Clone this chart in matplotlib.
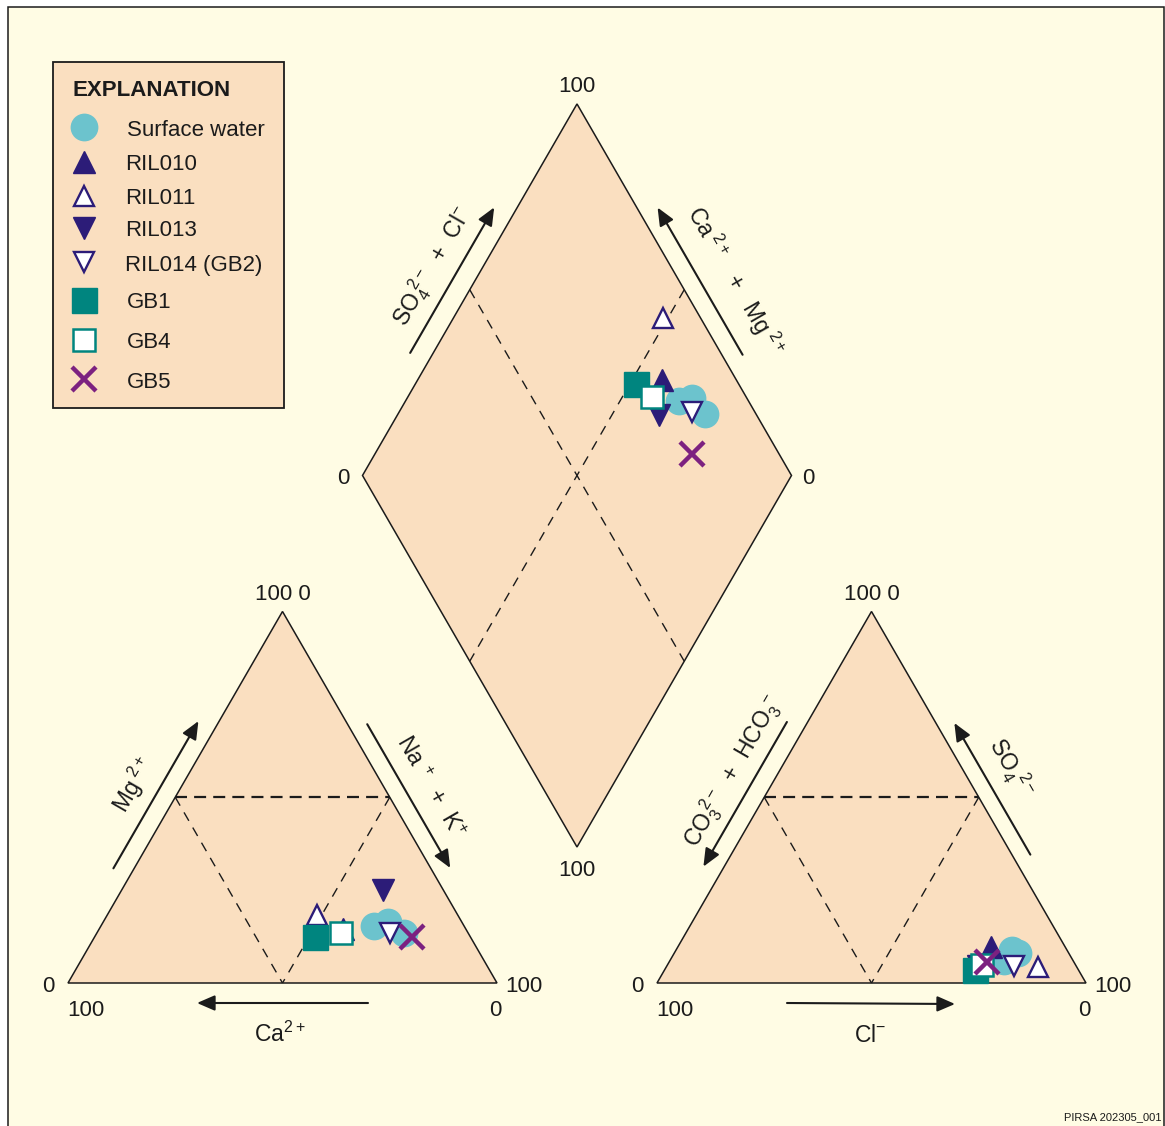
import numpy as np
import matplotlib
matplotlib.use("Agg")
import matplotlib.pyplot as plt
from matplotlib.patches import Polygon, Rectangle

plt.rcParams['font.family'] = ['Liberation Sans', 'DejaVu Sans']
plt.rcParams['mathtext.fontset'] = 'custom'
plt.rcParams['mathtext.rm'] = 'Liberation Sans'
plt.rcParams['mathtext.it'] = 'Liberation Sans:italic'
plt.rcParams['mathtext.bf'] = 'Liberation Sans:bold'
plt.rcParams['mathtext.default'] = 'regular'

# ---------------------------------------------------------------------------
# Sample groups (legend order) and their major-ion compositions (% meq/L)
# ---------------------------------------------------------------------------
groups = ['Surface water', 'RIL010', 'RIL011', 'RIL013', 'RIL014 (GB2)',
          'GB1', 'GB4', 'GB5']

# group index of each analysed sample
sample_group = [0, 0, 0, 1, 2, 3, 4, 5, 6, 7]

# cations
ca_pct = [21.0, 17.2, 14.9, 28.6, 32.9, 14.1, 18.2, 36.2, 29.5, 13.7]
mg_pct = [15.3, 16.4, 13.5, 14.5, 18.3, 25.0, 13.5, 12.4, 13.5, 12.4]
nak_pct = [63.7, 66.4, 71.6, 56.9, 48.8, 60.9, 68.3, 51.4, 57.0, 73.9]

# anions
hco3_pct = [16.2, 12.7, 11.8, 17.4, 8.9, 22.9, 14.5, 24.1, 21.9, 20.3]
so4_pct = [5.8, 9.0, 8.0, 9.7, 4.4, 4.6, 4.6, 3.5, 4.8, 5.7]
cl_pct = [78.0, 78.3, 80.2, 72.9, 86.7, 72.5, 80.9, 72.4, 73.3, 74.0]

# ---------------------------------------------------------------------------
# Layout of the Piper diagram (figure pixel space)
# ---------------------------------------------------------------------------
W, H = 1165, 1126
SIDE = 429.0
HT = SIDE * np.sqrt(3) / 2

cat_bl = np.array([68.0, 983.0])
cat_br = cat_bl + [SIDE, 0]
cat_top = cat_bl + [SIDE / 2, -HT]

an_bl = np.array([657.0, 983.0])
an_br = an_bl + [SIDE, 0]
an_top = an_bl + [SIDE / 2, -HT]

d_bottom = np.array([577.0, 847.0])
d_left = d_bottom + [-SIDE / 2, -HT]
d_right = d_bottom + [SIDE / 2, -HT]
d_top = d_bottom + [0, -2 * HT]

BG = '#FFFCE4'
FILL = '#FADFC0'
INK = '#1b1b1b'
NAVY = '#2C1C78'
TEAL = '#00857F'
CYAN = '#6CC3CD'
PURPLE = '#7C2180'

styles = [
    dict(marker='o', ms=20, mfc=CYAN, mec=CYAN, mew=0),
    dict(marker='^', ms=15.5, mfc=NAVY, mec=NAVY, mew=1.0),
    dict(marker='^', ms=14.5, mfc='white', mec=NAVY, mew=1.7),
    dict(marker='v', ms=15.5, mfc=NAVY, mec=NAVY, mew=1.0),
    dict(marker='v', ms=14.5, mfc='white', mec=NAVY, mew=1.7),
    dict(marker='s', ms=18, mfc=TEAL, mec=TEAL, mew=1.0),
    dict(marker='s', ms=16.5, mfc='white', mec=TEAL, mew=1.8),
    dict(marker='x', ms=17.5, mfc=PURPLE, mec=PURPLE, mew=3.2),
]


def ternary(a, b, c, p_a, p_b, p_c):
    a, b, c = (np.asarray(v, float) for v in (a, b, c))
    s = a + b + c
    return (np.outer(a / s, p_a) + np.outer(b / s, p_b) + np.outer(c / s, p_c))


def diamond(cat_sum, an_sum):
    """cat_sum = Ca+Mg (%), an_sum = SO4+Cl (%)"""
    cm = np.asarray(cat_sum, float)[:, None] / 100.0
    sc = np.asarray(an_sum, float)[:, None] / 100.0
    return d_bottom + sc * (d_right - d_bottom) + cm * (d_left - d_bottom)


fig = plt.figure(figsize=(W / 100, H / 100), dpi=100)
ax = fig.add_axes([0, 0, 1, 1])
ax.set_xlim(0, W)
ax.set_ylim(H, 0)
ax.axis('off')

# panel frame
ax.add_patch(Rectangle((8, 7), W - 9, H + 20, facecolor=BG, edgecolor=INK,
                       lw=1.1, zorder=0))

# diagram outlines
for poly in ([cat_bl, cat_top, cat_br], [an_bl, an_top, an_br],
             [d_left, d_top, d_right, d_bottom]):
    ax.add_patch(Polygon(poly, closed=True, facecolor=FILL, edgecolor=INK,
                         lw=1.1, zorder=1))

# internal dashed guides
def dline(p, q, lw, dash):
    ax.plot([p[0], q[0]], [p[1], q[1]], color=INK, lw=lw,
            ls=(0, dash), zorder=2)

for bl, top, br in ((cat_bl, cat_top, cat_br), (an_bl, an_top, an_br)):
    ml = (bl + top) / 2
    mr = (br + top) / 2
    mb = (bl + br) / 2
    dline(ml, mr, 1.6, (5.4, 3.2))
    dline(ml, mb, 1.0, (7.0, 5.6))
    dline(mr, mb, 1.0, (7.0, 5.6))

dline((d_left + d_top) / 2, (d_right + d_bottom) / 2, 1.0, (7.0, 5.6))
dline((d_right + d_top) / 2, (d_left + d_bottom) / 2, 1.0, (7.0, 5.6))

# ---------------------------------------------------------------------------
# Data points
# ---------------------------------------------------------------------------
cat_xy = ternary(ca_pct, mg_pct, nak_pct, cat_bl, cat_top, cat_br)
an_xy = ternary(hco3_pct, so4_pct, cl_pct, an_bl, an_top, an_br)
cat_tot = np.array(ca_pct) + np.array(mg_pct) + np.array(nak_pct)
an_tot = np.array(hco3_pct) + np.array(so4_pct) + np.array(cl_pct)
camg = 100 * (np.array(ca_pct) + np.array(mg_pct)) / cat_tot
so4cl = 100 * (np.array(so4_pct) + np.array(cl_pct)) / an_tot
dia_xy = diamond(camg, so4cl)

for g, st in enumerate(styles):
    idx = [i for i, sg in enumerate(sample_group) if sg == g]
    for pts in (cat_xy, an_xy, dia_xy):
        ax.plot(pts[idx, 0], pts[idx, 1], ls='none', zorder=5 + g, **st)

# ---------------------------------------------------------------------------
# Axis arrows and labels
# ---------------------------------------------------------------------------
DY = 3  # optical centring of upright labels


def label(x, y, s, size=16, **kw):
    ax.text(x, y + DY, s, ha=kw.pop('ha', 'center'), va='center',
            fontsize=size, color=INK, **kw)


def side_frame(p0, p1, outward):
    d = (p1 - p0) / np.linalg.norm(p1 - p0)
    n = np.array(outward, float)
    n = n / np.linalg.norm(n)
    return d, n


ARROW = dict(arrowstyle='-|>,head_length=0.6,head_width=0.26',
             mutation_scale=18, lw=1.5, color=INK, shrinkA=0, shrinkB=0)


def arrow(p0, p1, outward, t0, t1, off, head_at_end=True):
    d, n = side_frame(p0, p1, outward)
    a = p0 + d * t0 + n * off
    b = p0 + d * t1 + n * off
    tail, tip = (a, b) if head_at_end else (b, a)
    ax.annotate('', xy=tip, xytext=tail, zorder=3, arrowprops=ARROW)


def side_label(p0, p1, outward, t, off, text, rot, size=16.5):
    d, n = side_frame(p0, p1, outward)
    p = p0 + d * t + n * off
    ax.text(p[0], p[1], text, rotation=rot, rotation_mode='anchor',
            ha='center', va='center', fontsize=size, color=INK)


r3 = np.sqrt(3) / 2
# cation triangle
arrow(cat_bl, cat_top, (-r3, -0.5), 122, 292, 18)
side_label(cat_bl, cat_top, (-r3, -0.5), 204, 42, r'Mg$^{\ 2+}$', 60)
arrow(cat_top, cat_br, (r3, -0.5), 140, 306, 17)
side_label(cat_top, cat_br, (r3, -0.5), 226, 40, r'Na$^{\ +}$  +  K$^{+}$', -60)
ax.annotate('', xy=(197, 1003), xytext=(368, 1003), zorder=3, arrowprops=ARROW)
label(280, 1031, r'Ca$^{2+}$', size=16.5)

# anion triangle
arrow(an_bl, an_top, (-r3, -0.5), 124, 291, 18, head_at_end=False)
side_label(an_bl, an_top, (-r3, -0.5), 222, 40,
           r'CO$_3^{\ 2-}$  +  HCO$_3^{\ -}$', 60)
arrow(an_top, an_br, (r3, -0.5), 138, 290, 16, head_at_end=False)
side_label(an_top, an_br, (r3, -0.5), 205, 42, r'SO$_4^{\ \ 2-}$', -60)
ax.annotate('', xy=(955, 1004), xytext=(787, 1003), zorder=3, arrowprops=ARROW)
label(870, 1032, r'Cl$^{-}$', size=16.5)

# diamond
arrow(d_left, d_top, (-r3, -0.5), 130, 298, 20)
side_label(d_left, d_top, (-r3, -0.5), 216, 44,
           r'SO$_4^{\ 2-}$  +  Cl$^{-}$', 60)
arrow(d_right, d_top, (r3, -0.5), 129, 299, 18)
side_label(d_right, d_top, (r3, -0.5), 196, 48,
           r'Ca$^{\ 2+}$   +   Mg$^{\ 2+}$', -60)

# corner values
for bl, top, br in ((cat_bl, cat_top, cat_br), (an_bl, an_top, an_br)):
    label(top[0], top[1] - 20, '100 0')
    label(bl[0] - 20, bl[1], '0')
    label(bl[0] + 18, bl[1] + 24, '100')
    label(br[0] + 27, br[1], '100')
    label(br[0] - 2, br[1] + 24, '0')

label(d_top[0], d_top[1] - 20, '100')
label(d_bottom[0], d_bottom[1] + 20, '100')
label(d_left[0] - 19, d_left[1], '0')
label(d_right[0] + 17, d_right[1], '0')

# ---------------------------------------------------------------------------
# Explanation box
# ---------------------------------------------------------------------------
ax.add_patch(Rectangle((53, 62), 231, 346, facecolor=FILL, edgecolor=INK,
                       lw=1.3, zorder=3))
label(73, 88, 'EXPLANATION', ha='left', fontweight='bold', zorder=4)
leg_y = [127, 162, 196, 228, 262, 300, 340, 379]
leg_tx = [127, 125, 125, 125, 125, 127, 127, 127]
for g, st in enumerate(styles):
    ax.plot([84], [leg_y[g]], ls='none', zorder=4, **st)
    label(leg_tx[g], leg_y[g], groups[g], ha='left', zorder=4)

ax.text(1162, 1117, 'PIRSA 202305_001', ha='right', va='center',
        fontsize=8, color=INK)

fig.savefig('out.png', dpi=100, facecolor='white')
